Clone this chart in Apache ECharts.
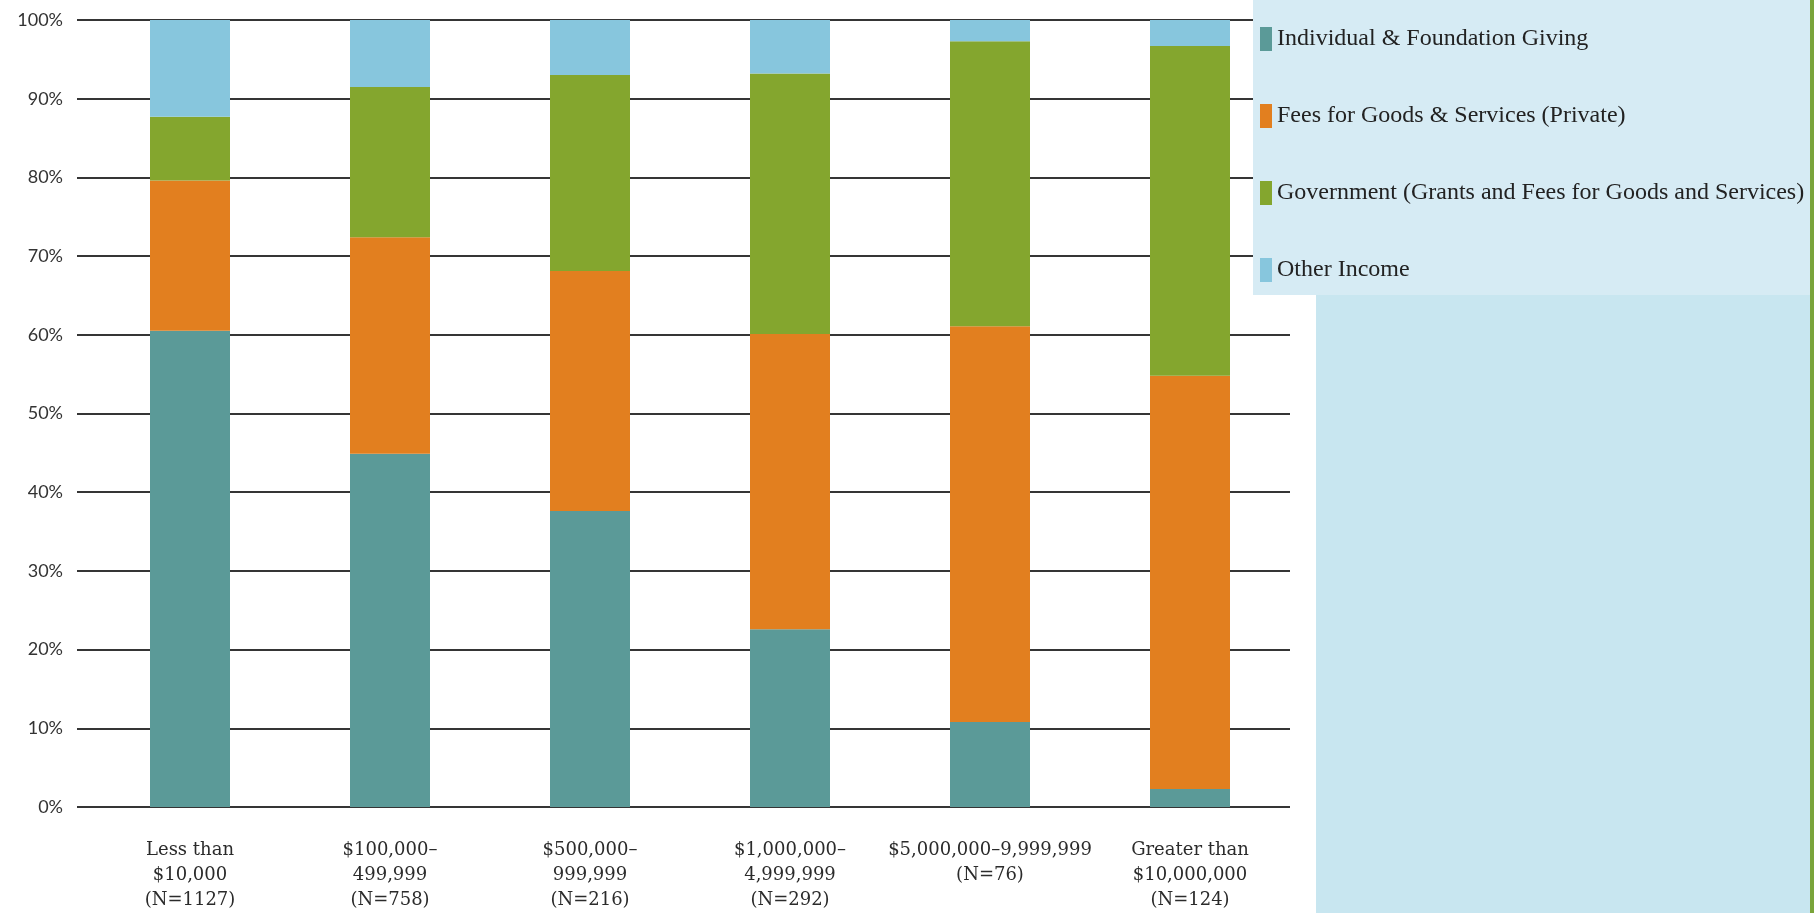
<!DOCTYPE html>
<html>
<head>
<meta charset="utf-8">
<script src="https://cdn.jsdelivr.net/npm/echarts@6/dist/echarts.min.js"></script>
<style>
html,body{margin:0;padding:0;background:#fff;}
#chart{width:1814px;height:913px;}
</style>
</head>
<body>
<div id="chart"></div>
<script>
var categories = [
  'Less than\n$10,000\n(N=1127)',
  '$100,000–\n499,999\n(N=758)',
  '$500,000–\n999,999\n(N=216)',
  '$1,000,000–\n4,999,999\n(N=292)',
  '$5,000,000–9,999,999\n(N=76)',
  'Greater than\n$10,000,000\n(N=124)'
];
var seriesNames = [
  'Individual & Foundation Giving',
  'Fees for Goods & Services (Private)',
  'Government (Grants and Fees for Goods and Services)',
  'Other Income'
];
var individualGiving = [60.5, 44.9, 37.6, 22.6, 10.8, 2.3];
var feesPrivate      = [19.1, 27.5, 30.5, 37.5, 50.3, 52.5];
var government       = [8.1, 19.1, 24.9, 33.1, 36.2, 41.9];
var otherIncome      = [12.3, 8.5, 7.0, 6.8, 2.7, 3.3];
var yTicks = [0, 10, 20, 30, 40, 50, 60, 70, 80, 90, 100];

var colors = ['#5B9A98', '#E27F1F', '#84A62E', '#87C6DD'];
var seriesData = [individualGiving, feesPrivate, government, otherIncome];

var chart = echarts.init(document.getElementById('chart'));
chart.setOption({
  animation: false,
  backgroundColor: '#ffffff',
  graphic: [
    { type: 'rect', z: 10, shape: { x: 1253, y: 0, width: 560, height: 295 }, style: { fill: '#D6EBF4' } },
    { type: 'rect', z: 10, shape: { x: 1316, y: 295, width: 497, height: 618 }, style: { fill: '#C8E6F0' } },
    { type: 'rect', z: 11, shape: { x: 1810, y: 0, width: 4, height: 913 }, style: { fill: '#7AA43A' } }
  ],
  legend: {
    z: 20,
    orient: 'vertical',
    left: 1260,
    top: 27,
    padding: 0,
    itemWidth: 12,
    itemHeight: 24,
    itemGap: 53,
    icon: 'rect',
    data: seriesNames,
    textStyle: { fontFamily: 'Liberation Serif', fontSize: 24, color: '#222' }
  },
  grid: [
    { left: 90, right: 524, top: 20, bottom: 106, containLabel: false },
    { left: 77, right: 524, top: 20, bottom: 106, containLabel: false }
  ],
  xAxis: [
    {
      type: 'category',
      gridIndex: 0,
      data: categories,
      axisLine: { show: false },
      axisTick: { show: false },
      axisLabel: {
        margin: 31,
        interval: 0,
        fontFamily: 'DejaVu Serif',
        fontSize: 18,
        lineHeight: 25,
        color: '#2b2b2b'
      }
    },
    { type: 'value', gridIndex: 1, min: 0, max: 1, show: false }
  ],
  yAxis: [
    {
      type: 'value',
      gridIndex: 0,
      min: yTicks[0],
      max: yTicks[yTicks.length - 1],
      interval: yTicks[1] - yTicks[0],
      show: false,
      splitLine: { show: false }
    },
    {
      type: 'value',
      gridIndex: 1,
      min: yTicks[0],
      max: yTicks[yTicks.length - 1],
      interval: yTicks[1] - yTicks[0],
      axisLine: { show: false },
      axisTick: { show: false },
      splitLine: { show: true, lineStyle: { color: '#353535', width: 2 } },
      axisLabel: {
        margin: 14,
        formatter: '{value}%',
        fontFamily: 'Lato',
        fontSize: 18,
        color: '#333'
      }
    }
  ],
  series: seriesNames.map(function (name, i) {
    return {
      name: name,
      type: 'bar',
      stack: 'total',
      xAxisIndex: 0,
      yAxisIndex: 0,
      barWidth: 80,
      data: seriesData[i],
      itemStyle: { color: colors[i] }
    };
  })
});
</script>
</body>
</html>
